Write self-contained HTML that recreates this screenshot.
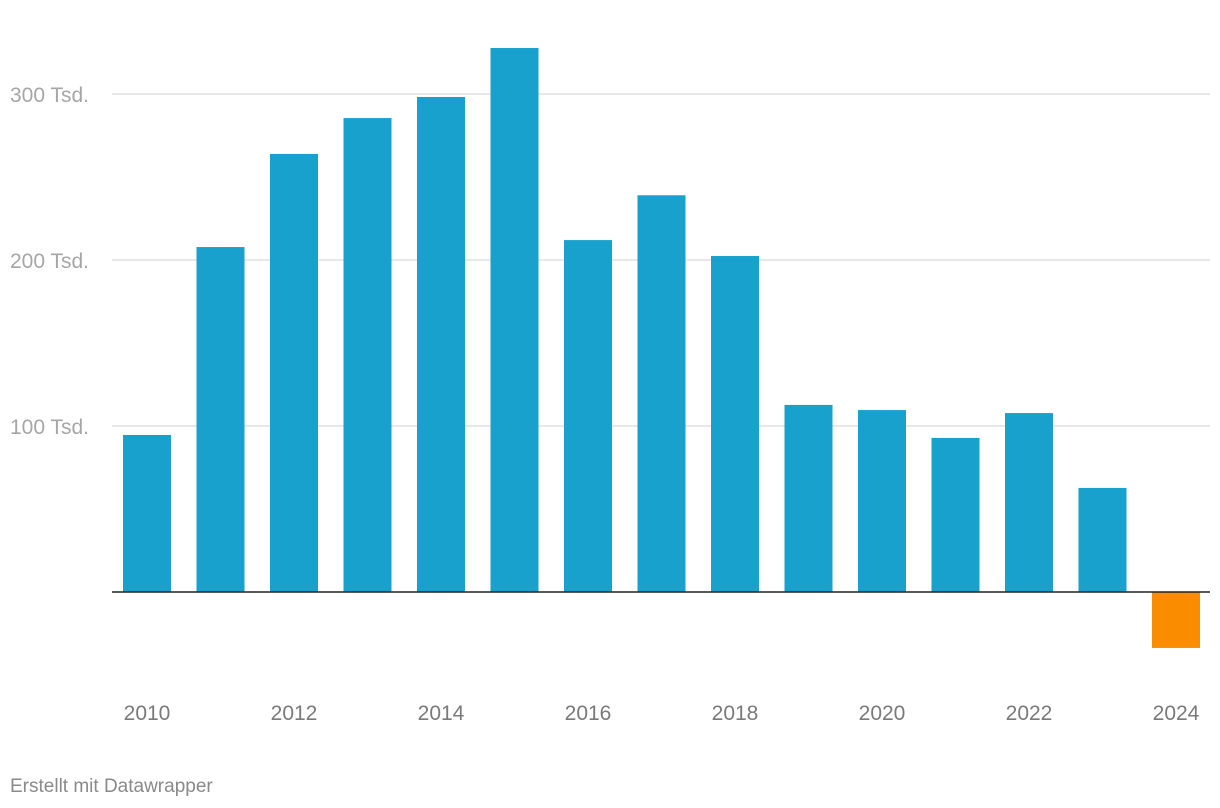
<!DOCTYPE html>
<html><head><meta charset="utf-8"><style>
body{margin:0;background:#fff;width:1220px;height:808px;overflow:hidden;font-family:"Liberation Sans",sans-serif}
svg{display:block}
</style></head><body>
<svg id="chart" width="1220" height="808"></svg>
<script>
const years=[2010,2011,2012,2013,2014,2015,2016,2017,2018,2019,2020,2021,2022,2023,2024];
const values=[94.6,207.8,263.9,285.5,298.2,327.7,212,239,202.4,112.7,109.6,92.8,107.8,62.7,-33.7];
const yTicks=[100,200,300];
const yTickLabels=["100 Tsd.","200 Tsd.","300 Tsd."];
const xLabelYears=[2010,2012,2014,2016,2018,2020,2022,2024];

const NS="http://www.w3.org/2000/svg";
const svg=document.getElementById('chart');
const y0=592, pxPer=1.66;
const y=v=>y0-v*pxPer;
const x0=123, step=73.5, bw=48;
const x=i=>x0+i*step;
function mk(t,a){const e=document.createElementNS(NS,t);for(const k in a)e.setAttribute(k,a[k]);svg.appendChild(e);return e;}

yTicks.forEach((t,i)=>{
  const g=mk('line',{x1:112,x2:1210,y1:y(t),y2:y(t),stroke:'#e0e0e0','stroke-width':1.5});
  
  
  const l=mk('text',{x:10,y:y(t)+8,fill:'#a6a6a6','font-size':21});
  l.textContent=yTickLabels[i];
  
  
});

values.forEach((v,i)=>{
  const top=Math.min(y(v),y0), h=Math.abs(y(v)-y0);
  const r=mk('rect',{x:x(i),y:top,width:bw,height:h,fill:v<0?'#fa8c00':'#18a1cd'});
  
  
});

const base=mk('line',{x1:112,x2:1210,y1:y0,y2:y0,stroke:'#222','stroke-width':1.5});



xLabelYears.forEach(yr=>{
  const i=years.indexOf(yr);
  const t=mk('text',{x:x(i)+bw/2,y:720,fill:'#7a7a7a','font-size':21,'text-anchor':'middle'});
  t.textContent=yr;
  
  
});

const f=mk('text',{x:10,y:792,fill:'#8a8a8a','font-size':19});
f.textContent='Erstellt mit Datawrapper';


</script>
</body></html>
